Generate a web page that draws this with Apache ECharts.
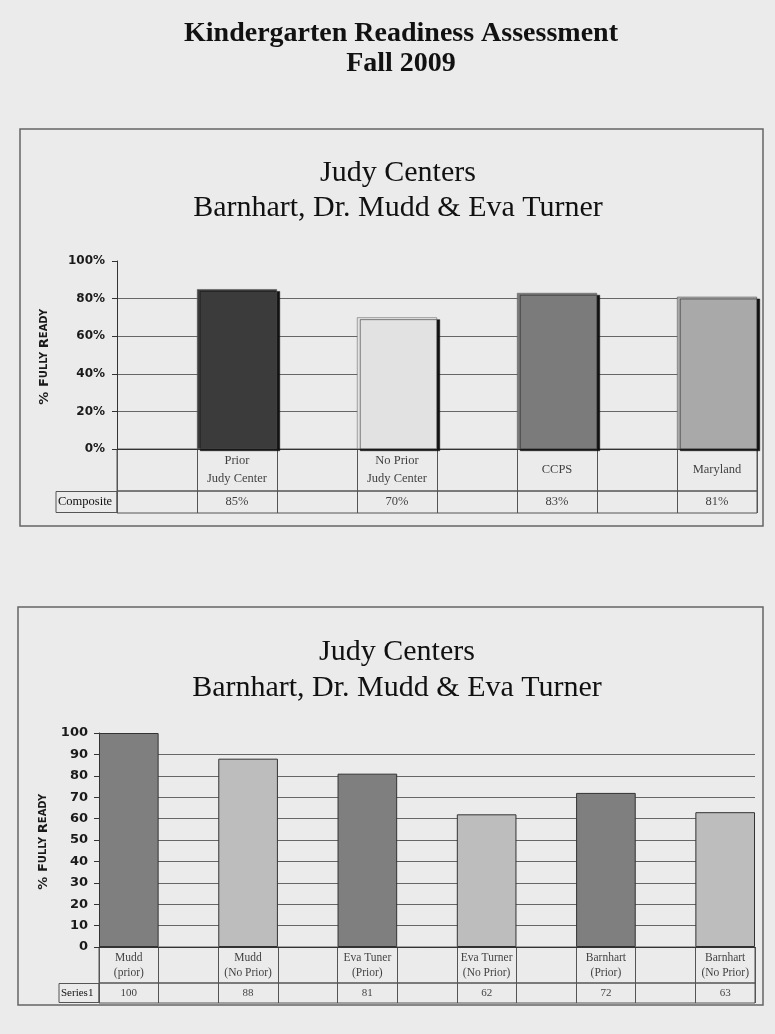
<!DOCTYPE html>
<html><head><meta charset="utf-8">
<script src="https://cdn.jsdelivr.net/npm/echarts@6/dist/echarts.min.js"></script>
<style>html,body{margin:0;padding:0;background:#ebebeb;}#c{width:775px;height:1034px;}</style>
</head><body><div id="c"></div>
<script>
// ---------- data ----------
const pageTitle = 'Kindergarten Readiness Assessment\nFall 2009';
const chartTitle = 'Judy Centers\nBarnhart, Dr. Mudd & Eva Turner';
const axisName = '% Fully Ready';

const topCategories = ['Prior\nJudy Center', 'No Prior\nJudy Center', 'CCPS', 'Maryland'];
const topValues = [85, 70, 83, 81];
const topRowLabel = 'Composite';
const topColors = ['#3b3b3b', '#e2e2e2', '#7b7b7b', '#a9a9a9'];
const topAxis = { min: 0, max: 100, interval: 20, suffix: '%' };

const bottomCategories = ['Mudd\n(prior)', 'Mudd\n(No Prior)', 'Eva Tuner\n(Prior)', 'Eva Turner\n(No Prior)', 'Barnhart\n(Prior)', 'Barnhart\n(No Prior)'];
const bottomValues = [100, 88, 81, 62, 72, 63];
const bottomRowLabel = 'Series1';
const bottomColors = ['#7f7f7f', '#bdbdbd', '#7f7f7f', '#bdbdbd', '#7f7f7f', '#bdbdbd'];
const bottomAxis = { min: 0, max: 100, interval: 10, suffix: '' };

// ---------- helpers ----------
const SERIF = '"Liberation Serif","Times New Roman",serif';
const SANS = '"DejaVu Sans",sans-serif';
const LINE = '#555';

// top: gap before each bar ; bottom: gap between bars
function buildSlots(cats, vals, leadingGap) {
  const slots = [], values = [], idx = [];
  cats.forEach((c, i) => {
    if (leadingGap || i > 0) { slots.push('g' + slots.length); values.push(null); }
    idx.push(slots.length); slots.push(c); values.push(vals[i]);
  });
  return { slots, values, idx };
}
const T = buildSlots(topCategories, topValues, true);
const B = buildSlots(bottomCategories, bottomValues, false);

function nameRich(txt) {
  // small caps rendering
  return txt.split(' ').map(w => {
    if (!/[a-z]/i.test(w)) return '{c|' + w + ' }';
    return '{c|' + w[0].toUpperCase() + '}{s|' + w.slice(1).toUpperCase() + ' }';
  }).join('');
}

function block(g, S, cats, vals, colors, ax, rowLabel, opts) {
  const xAxes = [], yAxes = [], series = [];
  const tableX = (gi) => ({
    gridIndex: gi, type: 'category', data: S.slots, boundaryGap: true,
    axisLine: { show: false }, axisTick: { show: false }, axisLabel: { show: false },
    splitLine: { show: true, interval: 0, lineStyle: { color: LINE, width: 1 } }
  });
  xAxes.push({
    gridIndex: g, type: 'category', data: S.slots, boundaryGap: true,
    axisLine: { show: true, lineStyle: { color: '#333' } }, axisTick: { show: false }, axisLabel: { show: false }
  });
  xAxes.push(tableX(g + 1));
  xAxes.push(tableX(g + 2));
  yAxes.push({
    gridIndex: g, type: 'value', min: ax.min, max: ax.max, interval: ax.interval,
    axisLine: { show: true, lineStyle: { color: '#333' } },
    axisTick: { show: true, length: 5, lineStyle: { color: '#333' } },
    axisLabel: { formatter: '{value}' + ax.suffix, color: '#1a1a1a', fontFamily: SANS, fontWeight: 'bold', fontSize: opts.tickSize, margin: opts.labelMargin },
    splitLine: { show: true, showMaxLine: false, lineStyle: { color: '#666', width: 1 } },
    name: nameRich(axisName), nameLocation: 'middle', nameGap: opts.nameGap, nameRotate: 90,
    nameTextStyle: { rich: {
      c: { fontFamily: SANS, fontWeight: 'bold', fontSize: 13, color: '#1a1a1a' },
      s: { fontFamily: SANS, fontWeight: 'bold', fontSize: 10, color: '#1a1a1a' } } }
  });
  yAxes.push({ gridIndex: g + 1, type: 'value', min: 0, max: 1, show: false });
  yAxes.push({
    gridIndex: g + 2, type: 'category', data: [rowLabel],
    axisLine: { show: false }, axisTick: { show: false },
    axisLabel: { margin: 0, formatter: v => '{b|' + v + '}', rich: { b: {
      width: opts.headW - 3, height: opts.valH - 1, lineHeight: opts.valH - 1, padding: [0, 0, 0, 2],
      borderColor: LINE, borderWidth: 1, align: 'left', verticalAlign: 'middle',
      fontFamily: SERIF, fontSize: opts.valSize, color: '#111' } } }
  });
  series.push({
    type: 'bar', xAxisIndex: 0, yAxisIndex: 0, barWidth: '100%', barCategoryGap: '0%',
    data: S.values.map((v, i) => {
      if (v === null) return '-';
      const k = S.idx.indexOf(i);
      return { value: v, itemStyle: Object.assign({ color: colors[k] }, opts.barStyle) };
    })
  });
  series.push({
    type: 'scatter', xAxisIndex: 1, yAxisIndex: 1, symbolSize: 0, silent: true,
    data: cats.map((c, k) => ({ value: [S.idx[k], 0.5], name: c })),
    label: { show: true, position: 'inside', formatter: p => p.name, fontFamily: SERIF, fontSize: opts.catSize, lineHeight: opts.catLH, color: '#111' }
  });
  series.push({
    type: 'scatter', xAxisIndex: 2, yAxisIndex: 2, symbolSize: 0, silent: true,
    data: vals.map((v, k) => ({ value: [S.idx[k], 0], name: String(v) + ax.suffix })),
    label: { show: true, position: 'inside', formatter: p => p.name, fontFamily: SERIF, fontSize: opts.valSize, color: '#111' }
  });
  return { xAxes, yAxes, series };
}

const grids = [
  { left: 117, top: 261, width: 640, height: 188 },
  { left: 117, top: 449, width: 640, height: 42, show: true, borderColor: LINE, borderWidth: 1 },
  { left: 117, top: 491, width: 640, height: 22, show: true, borderColor: LINE, borderWidth: 1 },
  { left: 99, top: 733, width: 656, height: 214 },
  { left: 99, top: 947, width: 656, height: 36, show: true, borderColor: LINE, borderWidth: 1 },
  { left: 99, top: 983, width: 656, height: 20, show: true, borderColor: LINE, borderWidth: 1 }
];

const b1 = block(0, T, topCategories, topValues, topColors, topAxis, topRowLabel, {
  tickSize: 12, labelMargin: 12, nameGap: 66, headW: 62, valH: 22, valSize: 12.5, catSize: 12.5, catLH: 18,
  barStyle: { borderColor: '#555', borderWidth: 0.5, shadowColor: '#111', shadowBlur: 0, shadowOffsetX: 3, shadowOffsetY: 2 }
});
const b2 = block(3, B, bottomCategories, bottomValues, bottomColors, bottomAxis, bottomRowLabel, {
  tickSize: 13, labelMargin: 11, nameGap: 46, headW: 41, valH: 20, valSize: 11, catSize: 11.5, catLH: 15,
  barStyle: { borderColor: '#333', borderWidth: 1 }
});
b2.series.forEach(s => { s.xAxisIndex += 3; s.yAxisIndex += 3; });

const option = {
  backgroundColor: '#ebebeb',
  animation: false,
  title: [
    { text: pageTitle, left: 396, top: 14, textAlign: 'center',
      textStyle: { fontFamily: SERIF, fontWeight: 'bold', fontSize: 28, lineHeight: 30, color: '#111' } },
    { text: chartTitle, left: 393, top: 151, textAlign: 'center',
      textStyle: { fontFamily: SERIF, fontWeight: 'normal', fontSize: 30, lineHeight: 35, color: '#111' } },
    { text: chartTitle, left: 392, top: 629, textAlign: 'center',
      textStyle: { fontFamily: SERIF, fontWeight: 'normal', fontSize: 30, lineHeight: 36, color: '#111' } }
  ],
  graphic: [
    { type: 'rect', shape: { x: 20, y: 129, width: 743, height: 397 }, style: { fill: 'none', stroke: '#666', lineWidth: 1.5 }, z: -1 },
    { type: 'rect', shape: { x: 18, y: 607, width: 745, height: 398 }, style: { fill: 'none', stroke: '#666', lineWidth: 1.5 }, z: -1 }
  ],
  grid: grids,
  xAxis: b1.xAxes.concat(b2.xAxes),
  yAxis: b1.yAxes.concat(b2.yAxes),
  series: b1.series.concat(b2.series)
};
echarts.init(document.getElementById('c')).setOption(option);
</script></body></html>
